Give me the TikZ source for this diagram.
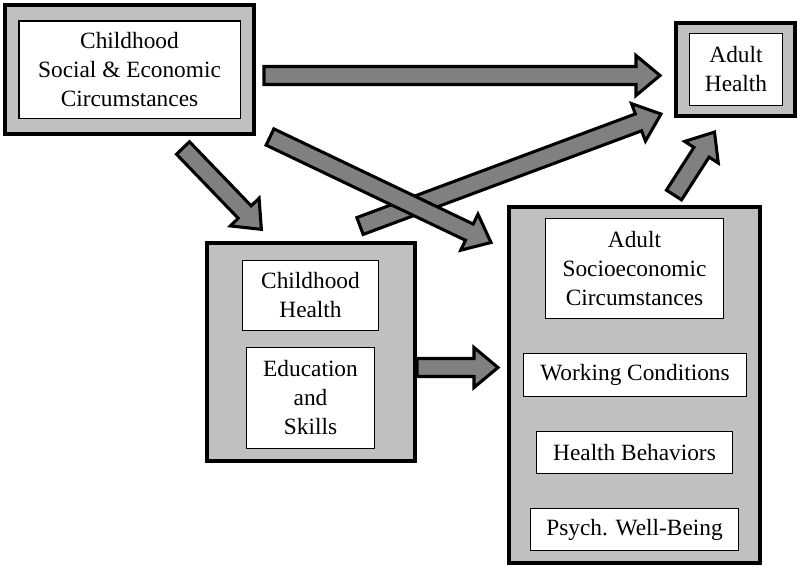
\documentclass[tikz,border=0pt]{standalone}
\usepackage{fontspec}
\setmainfont{Liberation Serif}
\usetikzlibrary{calc}
\definecolor{boxgray}{HTML}{C0C0C0}
\definecolor{arrgray}{HTML}{808080}
\tikzset{
  outerbox/.style={draw=black, line width=3pt, fill=boxgray, rectangle, inner sep=0pt},
  innerbox/.style={draw=black, line width=1pt, fill=white, rectangle, inner sep=0pt, align=center,
    font=\fontsize{17.5}{21.75}\selectfont},
  blockarrowstyle/.style={draw=black, line width=2.3pt, fill=arrgray, line join=miter},
}
\newcommand\blockarrow[2]{%
  \path (#1); \pgfgetlastxy{\ax}{\ay}
  \path (#2); \pgfgetlastxy{\bx}{\by}
  \pgfmathsetmacro\ang{atan2(\by-\ay,\bx-\ax)}
  \pgfmathsetmacro\len{veclen(\bx-\ax,\by-\ay)/0.75}
  \begin{scope}[shift={(\ax,\ay)}, rotate=\ang]
    \draw[blockarrowstyle] (0,-9) -- ({\len-24},-9) -- ({\len-24},-20) -- (\len,0)
      -- ({\len-24},20) -- ({\len-24},9) -- (0,9) -- cycle;
  \end{scope}
}
\begin{document}
\begin{tikzpicture}[x=0.75pt, y=0.75pt]
\useasboundingbox (0,0) rectangle (800,-568);
\fill[white] (0,0) rectangle (800,-568);

% Childhood social & economic
\node[outerbox, minimum width=186.75pt, minimum height=96.75pt] (csec) at (129.5,-69.5) {};
\node[innerbox, minimum width=166pt, minimum height=73pt] (csecin) at (129.5,-69.5)
  {Childhood\\Social \& Economic\\Circumstances};

% Adult health
\node[outerbox, minimum width=89.25pt, minimum height=69.75pt] (ah) at (735.5,-69.5) {};
\node[innerbox, minimum width=69.75pt, minimum height=54pt] (ahin) at (736,-69.5)
  {Adult\\Health};

% Middle group
\node[outerbox, minimum width=156pt, minimum height=163.5pt] (mid) at (311,-352) {};
\node[innerbox, minimum width=102pt, minimum height=52.5pt] (chh) at (310.5,-295.5)
  {Childhood\\Health};
\node[innerbox, minimum width=96pt, minimum height=75.75pt] (edu) at (310.5,-398)
  {Education\\and\\Skills};

% Right group
\node[outerbox, minimum width=188.25pt, minimum height=267pt] (adult) at (634.5,-385) {};
\node[innerbox, minimum width=133.5pt, minimum height=75pt] (asec) at (634.5,-268.5)
  {Adult\\Socioeconomic\\Circumstances};
\node[innerbox, minimum width=167.25pt, minimum height=32.25pt] (work) at (635,-375)
  {Working Conditions};
\node[innerbox, minimum width=147pt, minimum height=31.5pt] (hb) at (634.5,-452.5)
  {Health Behaviors};
\node[innerbox, minimum width=156pt, minimum height=31.5pt] (psych) at (634.5,-529.5)
  {Psych. Well-Being};

% arrow end points
\coordinate (a1s) at (264,-75.5);
\coordinate (a1e) at (660,-75.5);
\coordinate (a2s) at (270,-137);
\coordinate (a2e) at (491,-242.5);
\coordinate (a3s) at (360,-226);
\coordinate (a3e) at (661,-114);
\coordinate (a4s) at (183,-148);
\coordinate (a4e) at (261.5,-229.5);
\coordinate (a5s) at (mid.east |- 0,-367.5);
\coordinate (a5e) at (498,-367.5);
\coordinate (a6s) at (674,-195);
\coordinate (a6e) at (714.5,-132);

\blockarrow{a1s}{a1e}
\blockarrow{a4s}{a4e}
\blockarrow{a3s}{a3e}
\blockarrow{a2s}{a2e}
\blockarrow{a5s}{a5e}
\blockarrow{a6s}{a6e}
\end{tikzpicture}
\end{document}
